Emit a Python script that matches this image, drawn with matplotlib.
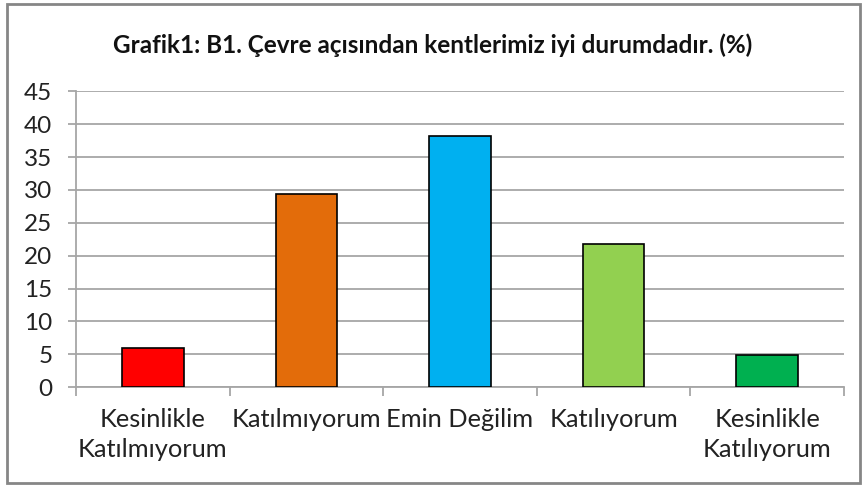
import numpy as np
import matplotlib
matplotlib.use("Agg")
import matplotlib.pyplot as plt
from matplotlib.patches import Rectangle

# data
categories = ["Kesinlikle\nKatılmıyorum", "Katılmıyorum", "Emin Değilim",
              "Katılıyorum", "Kesinlikle\nKatılıyorum"]
values = [6.0, 29.4, 38.2, 21.8, 4.9]
colors = ["#FF0000", "#E36C0A", "#00B0F0", "#92D050", "#00B050"]
yticks = [0, 5, 10, 15, 20, 25, 30, 35, 40, 45]
title = "Grafik1: B1. Çevre açısından kentlerimiz iyi durumdadır. (%)"

plt.rcParams['font.family'] = ['Lato', 'DejaVu Sans']

fig = plt.figure(figsize=(8.66, 4.86), dpi=100)
ax = fig.add_axes([76 / 866, 1 - 387 / 486, (844 - 76) / 866, (387 - 91.5) / 486])

x = np.arange(len(categories))
ax.bar(x, values, width=0.4, color=colors, edgecolor="black", linewidth=1.2, zorder=3)

ax.set_xlim(-0.5, len(categories) - 0.5)
ax.set_ylim(0, 45)
ax.set_yticks(yticks)
ax.yaxis.grid(True, color="#A6A6A6", linewidth=1.3, zorder=0)

# category ticks sit between bars, labels centered under bars
ax.set_xticks(np.arange(-0.5, len(categories) + 0.5, 1))
ax.set_xticklabels([])
ax.set_xticks(x, minor=True)
ax.set_xticklabels(categories, minor=True, fontsize=18.3, color="#222222", linespacing=1.4)
ax.tick_params(axis="x", which="minor", length=0, pad=15)
ax.tick_params(axis="x", which="major", length=6.5, color="#A6A6A6", width=1.3)
ax.tick_params(axis="y", length=6, color="#A6A6A6", width=1.3, labelsize=17.5,
               labelcolor="#222222", pad=11)

for side in ["top", "right"]:
    ax.spines[side].set_visible(False)
for side in ["left", "bottom"]:
    ax.spines[side].set_color("#A6A6A6")
    ax.spines[side].set_linewidth(1.3)

fig.text(433 / 866, 1 - 45 / 486, title, ha="center", va="center",
         fontsize=17.5, fontweight="bold", color="#111111")

# outer chart border
fig.patches.append(Rectangle((7 / 866, 3 / 486), 853 / 866, 479 / 486, transform=fig.transFigure,
                             fill=False, edgecolor="#868686", linewidth=2))

fig.savefig("out.png", dpi=100)
